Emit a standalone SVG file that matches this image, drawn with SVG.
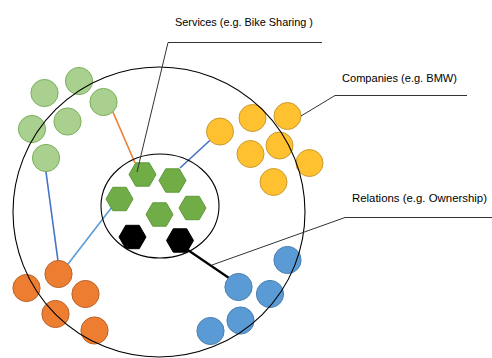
<svg xmlns="http://www.w3.org/2000/svg" xmlns:xlink="http://www.w3.org/1999/xlink" width="492" height="358" viewBox="0 0 492 358">
  <style>
    .ring { fill: none; stroke: #000; stroke-width: 1.1; }
    .green { fill: #A9D08E; stroke: #7DAF5C; stroke-width: 1; }
    .yellow { fill: #FFC12F; stroke: #C99A2E; stroke-width: 1; }
    .orange { fill: #ED7D31; stroke: #B8622A; stroke-width: 1; }
    .blue { fill: #5B9BD5; stroke: #4A7FB0; stroke-width: 1; }
    .svc { fill: #70AD47; stroke: #5E9A3A; stroke-width: 1; }
    .blk { fill: #000; stroke: #000; stroke-width: 1; }
    .callout { fill: none; stroke: #333; stroke-width: 1; }
    .label { font-family: "Liberation Sans", Arial, sans-serif; font-size: 11.5px; fill: #000; text-anchor: middle; }
  </style>
  <defs>
    <polygon id="hex" points="-13.5,0 -6.75,-11.7 6.75,-11.7 13.5,0 6.75,11.7 -6.75,11.7"/>
  </defs>

  <!-- edges between entities -->
  <g id="connectors" fill="none">
    <line x1="112.5" y1="111" x2="135" y2="163" stroke="#ED7D31" stroke-width="1.6"/>
    <line x1="46" y1="172" x2="58" y2="261" stroke="#4472C4" stroke-width="1.6"/>
    <line x1="68" y1="264" x2="112" y2="207" stroke="#5B9BD5" stroke-width="1.6"/>
    <line x1="219" y1="132" x2="180" y2="168" stroke="#4472C4" stroke-width="1.6"/>
    <line x1="182" y1="246" x2="229" y2="278" stroke="#000" stroke-width="2.2"/>
  </g>

  <!-- companies (green cluster) -->
  <g id="green-1"><circle class="green" cx="44.5" cy="93" r="13.6"/></g>
  <g id="green-2"><circle class="green" cx="79" cy="81" r="13.6"/></g>
  <g id="green-3"><circle class="green" cx="103.5" cy="102" r="13.6"/></g>
  <g id="green-4"><circle class="green" cx="32" cy="129" r="13.6"/></g>
  <g id="green-5"><circle class="green" cx="67.5" cy="121.5" r="13.6"/></g>
  <g id="green-6"><circle class="green" cx="46" cy="158" r="13.6"/></g>

  <!-- companies (yellow cluster) -->
  <g id="yellow-1"><circle class="yellow" cx="220" cy="131.5" r="13.5"/></g>
  <g id="yellow-2"><circle class="yellow" cx="252.5" cy="118" r="13.5"/></g>
  <g id="yellow-3"><circle class="yellow" cx="287.5" cy="116" r="13.5"/></g>
  <g id="yellow-4"><circle class="yellow" cx="250.5" cy="154" r="13.5"/></g>
  <g id="yellow-5"><circle class="yellow" cx="279.5" cy="145.5" r="13.5"/></g>
  <g id="yellow-6"><circle class="yellow" cx="309.5" cy="163" r="13.5"/></g>
  <g id="yellow-7"><circle class="yellow" cx="273.5" cy="182" r="13.5"/></g>

  <!-- companies (orange cluster) -->
  <g id="orange-1"><circle class="orange" cx="58.5" cy="274" r="13.6"/></g>
  <g id="orange-2"><circle class="orange" cx="26.5" cy="288" r="13.6"/></g>
  <g id="orange-3"><circle class="orange" cx="85.5" cy="294" r="13.6"/></g>
  <g id="orange-4"><circle class="orange" cx="55.5" cy="314" r="13.6"/></g>
  <g id="orange-5"><circle class="orange" cx="94.5" cy="330.5" r="13.6"/></g>

  <!-- companies (blue cluster) -->
  <g id="blue-1"><circle class="blue" cx="238.5" cy="287" r="13.6"/></g>
  <g id="blue-2"><circle class="blue" cx="287.5" cy="260" r="13.6"/></g>
  <g id="blue-3"><circle class="blue" cx="270" cy="294" r="13.6"/></g>
  <g id="blue-4"><circle class="blue" cx="240.5" cy="320.5" r="13.6"/></g>
  <g id="blue-5"><circle class="blue" cx="210.5" cy="331" r="13.6"/></g>

  <!-- services -->
  <g id="service-1"><use xlink:href="#hex" class="svc" transform="translate(142.5,174.5)"/></g>
  <g id="service-2"><use xlink:href="#hex" class="svc" transform="translate(172.5,180.5)"/></g>
  <g id="service-3"><use xlink:href="#hex" class="svc" transform="translate(119.5,199)"/></g>
  <g id="service-4"><use xlink:href="#hex" class="svc" transform="translate(159.5,214.5)"/></g>
  <g id="service-5"><use xlink:href="#hex" class="svc" transform="translate(192.5,208)"/></g>
  <g id="service-6"><use xlink:href="#hex" class="blk" transform="translate(132.5,237)"/></g>
  <g id="service-7"><use xlink:href="#hex" class="blk" transform="translate(180,240.5)"/></g>

  <!-- boundaries -->
  <g id="rings">
    <ellipse class="ring" cx="159" cy="212" rx="146" ry="145"/>
    <ellipse class="ring" cx="160" cy="206" rx="59" ry="52"/>
  </g>

  <!-- callouts -->
  <g id="callout-services">
    <polyline class="callout" points="137,172 168,42.5 322,42.5"/>
    <text class="label" x="244" y="26" textLength="138" lengthAdjust="spacingAndGlyphs">Services (e.g. Bike Sharing )</text>
  </g>
  <g id="callout-companies">
    <polyline class="callout" points="301,116 335,95.5 467,95.5"/>
    <text class="label" x="399.5" y="82" textLength="115" lengthAdjust="spacingAndGlyphs">Companies (e.g. BMW)</text>
  </g>
  <g id="callout-relations">
    <polyline class="callout" points="212,265 345,217.5 492,217.5"/>
    <text class="label" x="419.5" y="202" textLength="135" lengthAdjust="spacingAndGlyphs">Relations (e.g. Ownership)</text>
  </g>
</svg>
